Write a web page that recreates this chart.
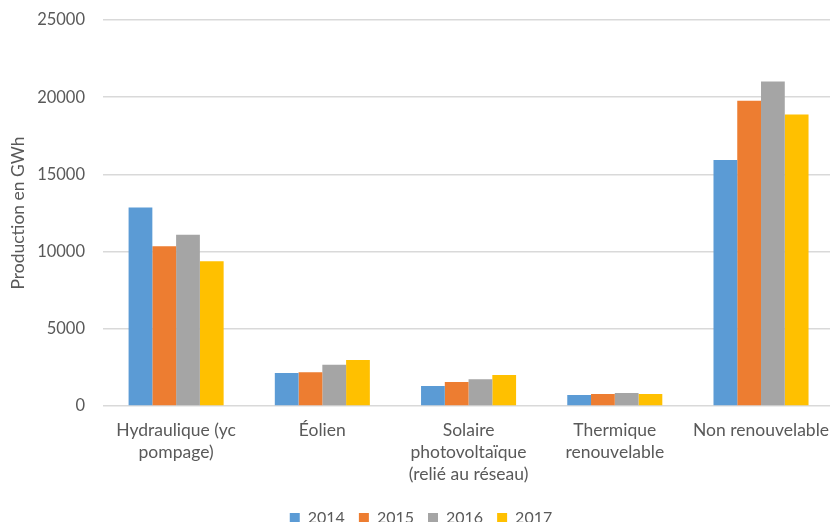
<!DOCTYPE html>
<html>
<head>
<meta charset="utf-8">
<script src="https://cdn.jsdelivr.net/npm/chart.js@4/dist/chart.umd.min.js"></script>
<style>
  html, body { margin: 0; padding: 0; background: #fff; overflow: hidden; }
  #wrap { width: 830px; height: 522px; overflow: hidden; }
</style>
</head>
<body>
<div id="wrap"><canvas id="chart" width="842" height="536"></canvas></div>
<script>
// === DATA ===
const categories = [
    ['Hydraulique (yc', 'pompage)'],
    ['Éolien'],
    ['Solaire', 'photovoltaïque', '(relié au réseau)'],
    ['Thermique', 'renouvelable'],
    ['Non renouvelable']
];
const years = ['2014', '2015', '2016', '2017'];
const values2014 = [12850, 2130, 1300, 720, 15930];
const values2015 = [10350, 2190, 1560, 780, 19770];
const values2016 = [11090, 2670, 1740, 850, 21010];
const values2017 = [9380, 2980, 2000, 780, 18880];
const yTicks = [0, 5000, 10000, 15000, 20000, 25000];

const colors = ['#5B9BD5', '#ED7D31', '#A5A5A5', '#FFC000'];
const series = [values2014, values2015, values2016, values2017];

// canvas is a bit larger than the window: the original is cropped on the right and at the bottom
const FONT = 'Lato, "Open Sans", sans-serif';
const TEXT = '#595959';

const ctx = document.getElementById('chart').getContext('2d');
new window.Chart(ctx, {
    type: 'bar',
    data: {
        labels: categories,
        datasets: series.map((s, i) => ({
            label: years[i],
            data: s,
            backgroundColor: colors[i],
            borderWidth: 0,
            categoryPercentage: 0.65,
            barPercentage: 1.0
        }))
    },
    options: {
        responsive: false,
        animation: false,
        layout: { padding: { top: 20, right: 0, left: 0, bottom: 0 } },
        plugins: {
            tooltip: { enabled: false },
            legend: {
                position: 'bottom',
                labels: {
                    font: { family: FONT, size: 16 },
                    color: TEXT,
                    boxWidth: 10,
                    boxHeight: 10,
                    padding: 14
                }
            }
        },
        scales: {
            x: {
                grid: { display: false, drawTicks: false },
                border: { display: false },
                ticks: {
                    font: { family: FONT, size: 17.5, lineHeight: 1.26 },
                    color: TEXT,
                    padding: 13,
                    maxRotation: 0,
                    autoSkip: false
                },
                afterFit: (scale) => { scale.height = 90; }
            },
            y: {
                min: 0,
                max: 25000,
                afterBuildTicks: (scale) => { scale.ticks = yTicks.map(v => ({ value: v })); },
                grid: { color: '#D9D9D9', lineWidth: 1.5, drawTicks: false },
                border: { display: false },
                ticks: {
                    font: { family: FONT, size: 16.5 },
                    color: TEXT,
                    padding: 18,
                    callback: (v) => String(v)
                },
                title: {
                    display: true,
                    text: 'Production en GWh',
                    font: { family: FONT, size: 17.5 },
                    color: TEXT,
                    padding: { top: 8, bottom: 0 }
                },
                afterFit: (scale) => {
                    scale.width = 103;
                    scale.paddingTop = 0;
                    scale.paddingBottom = 0;
                }
            }
        }
    }
});
</script>
</body>
</html>
